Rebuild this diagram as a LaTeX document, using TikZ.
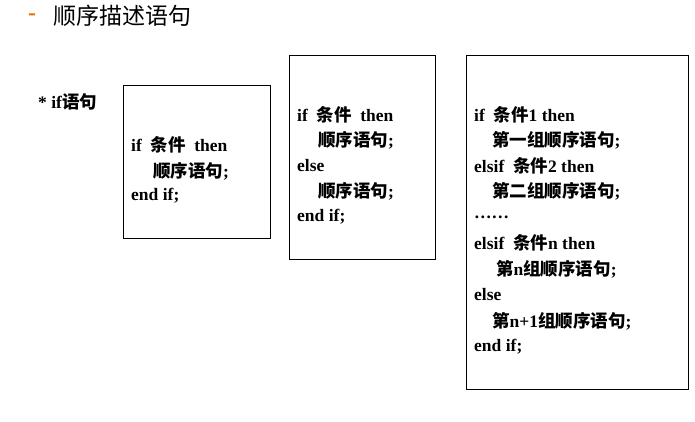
\documentclass[tikz,border=0pt]{standalone}
\usepackage{fontspec}
\setmainfont{Liberation Serif}
\newfontfamily\cjk{Noto Sans CJK SC}
\newcommand{\cn}[1]{{\cjk #1}}
\tikzstyle{none}=[inner sep=0pt]
\tikzstyle{line}=[inner sep=0pt,anchor=west,font=\fontsize{17.5}{19}\selectfont\bfseries]
\tikzstyle{frame}=[draw=black,line width=0.8pt]

\begin{document}
\begin{tikzpicture}[x=1pt,y=-1pt]
	\useasboundingbox (0,0) rectangle (695,421);
	\node [style=none, anchor=west, text=orange!90!black, font=\fontsize{24}{26}\selectfont\bfseries] (dash) at (28,17) {-};
	\node [style=none, anchor=west, font=\fontsize{23}{26}\selectfont\cjk] (title) at (53,16) {顺序描述语句};
	\node [style=line] (ifstmt) at (38,102) {* if\cn{语句}};
	% box 1
	\draw [style=frame] (123,85) rectangle (270,238);
	\node [style=line] (a1) at (131,145) {if\ \ \cn{条件}\ \ then};
	\node [style=line] (a2) at (153,171) {\cn{顺序语句};};
	\node [style=line] (a3) at (131,196) {end if;};
	% box 2
	\draw [style=frame] (289,55) rectangle (435,259);
	\node [style=line] (b1) at (297,115) {if\ \ \cn{条件}\ \ then};
	\node [style=line] (b2) at (318,140) {\cn{顺序语句};};
	\node [style=line] (b3) at (297,166) {else};
	\node [style=line] (b4) at (318,191) {\cn{顺序语句};};
	\node [style=line] (b5) at (297,217) {end if;};
	% box 3
	\draw [style=frame] (466,55) rectangle (688,389);
	\node [style=line] (c1) at (474,115) {if\ \ \cn{条件}1\ then};
	\node [style=line] (c2) at (492,140) {\cn{第一组顺序语句};};
	\node [style=line] (c3) at (474,166) {elsif\ \ \cn{条件}2\ then};
	\node [style=line] (c4) at (492,191) {\cn{第二组顺序语句};};
	\node [style=line] (c5) at (474,217) {……};
	\node [style=line] (c6) at (474,243) {elsif\ \ \cn{条件}n\ then};
	\node [style=line] (c7) at (496,269) {\cn{第}n\cn{组顺序语句};};
	\node [style=line] (c8) at (474,295) {else};
	\node [style=line] (c9) at (492,321) {\cn{第}n+1\cn{组顺序语句};};
	\node [style=line] (c10) at (474,347) {end if;};
\end{tikzpicture}
\end{document}
